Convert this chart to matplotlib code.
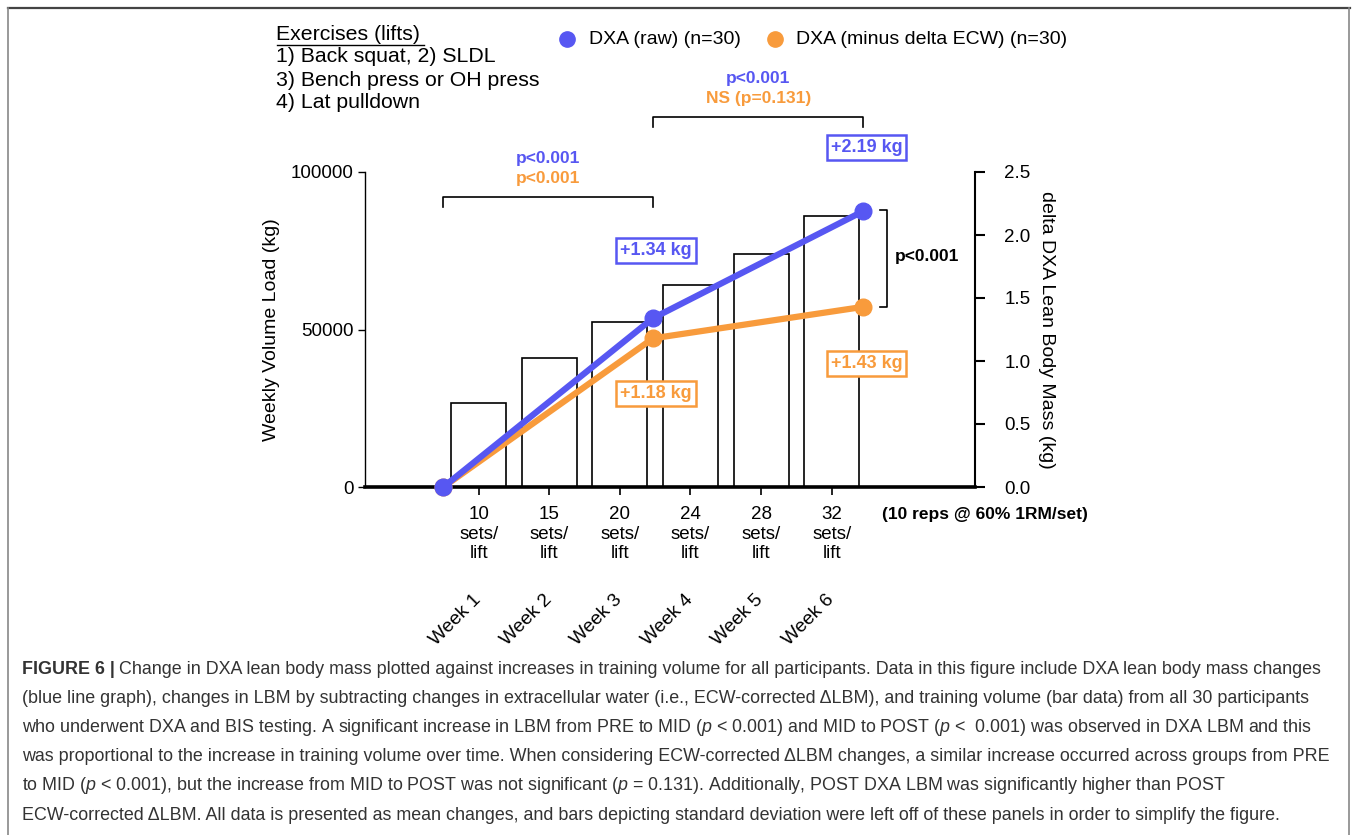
import matplotlib
matplotlib.use("Agg")
import matplotlib.pyplot as plt
from matplotlib.lines import Line2D
from matplotlib import transforms

# ---- data -------------------------------------------------------------
weeks = ["Week 1", "Week 2", "Week 3", "Week 4", "Week 5", "Week 6"]
sets_per_lift = [10, 15, 20, 24, 28, 32]
weekly_volume = [26700, 41000, 52400, 64100, 74000, 86000]  # kg

# time points (PRE, MID, POST) on the week scale
timepoint_x = [-0.5, 2.47, 5.45]
dxa_raw = [0.0, 1.34, 2.19]            # kg
dxa_minus_ecw = [0.0, 1.18, 1.43]      # kg

BLUE = "#5757F2"
ORANGE = "#F89B3C"
W, H = 1358, 835

plt.rcParams["font.family"] = ["Liberation Sans", "DejaVu Sans"]
plt.rcParams["mathtext.fontset"] = "custom"
plt.rcParams["mathtext.rm"] = "Liberation Sans"
plt.rcParams["mathtext.it"] = "Liberation Sans:italic"


def fx(px):
    return px / W


def fy(py):
    return 1 - py / H


fig = plt.figure(figsize=(W / 100, H / 100), dpi=100)
fig.patch.set_facecolor("white")

ax = fig.add_axes([fx(365), fy(487), (975 - 365) / W, (487 - 172) / H])
ax2 = ax.twinx()

x = list(range(len(weeks)))
ax.bar(x, weekly_volume, width=0.78, facecolor="white", edgecolor="black",
       linewidth=1.2, zorder=2)
ax.set_xlim(-1.61, 7.03)
ax.set_ylim(0, 100000)
ax.set_yticks([0, 50000, 100000])
ax.set_yticklabels(["0", "50000", "100000"])
ax.set_xticks(x)
ax.set_xticklabels([f"{s}\nsets/\nlift" for s in sets_per_lift],
                   linespacing=1.18)
ax.tick_params(axis="x", length=6, width=1.2, pad=8, labelsize=13.5,
               colors="black")
ax.tick_params(axis="y", length=5, width=1.0, pad=3, labelsize=13.5)

for side in ("top",):
    ax.spines[side].set_visible(False)
    ax2.spines[side].set_visible(False)
ax.spines["left"].set_linewidth(1.0)
ax.spines["bottom"].set_linewidth(2.6)
ax.spines["right"].set_visible(False)
ax2.spines["left"].set_visible(False)
ax2.spines["bottom"].set_visible(False)
ax2.spines["right"].set_linewidth(1.5)

ax.set_ylabel("Weekly Volume Load (kg)", fontsize=14, labelpad=8)

# delta lean body mass lines
ax2.set_ylim(0, 2.5)
ax2.set_yticks([0, 0.5, 1.0, 1.5, 2.0, 2.5])
ax2.set_yticklabels(["0.0", "0.5", "1.0", "1.5", "2.0", "2.5"])
ax2.tick_params(axis="y", length=7, width=1.5, pad=14, labelsize=13.5)
ax2.set_ylabel("delta DXA Lean Body Mass (kg)", fontsize=14, rotation=270,
               labelpad=18)
ax2.plot(timepoint_x, dxa_minus_ecw, color=ORANGE, lw=4.5, marker="o",
         ms=12, solid_capstyle="round", zorder=3, clip_on=False)
ax2.plot(timepoint_x, dxa_raw, color=BLUE, lw=4.5, marker="o",
         ms=12, solid_capstyle="round", zorder=4, clip_on=False)

# value boxes
def value_box(val, xpos, color, dy):
    ax2.annotate(f"+{val:.2f} kg", xy=(xpos, val), xytext=(3, dy),
                 textcoords="offset pixels", ha="center", va="center",
                 fontsize=13, fontweight="bold", color=color,
                 bbox=dict(boxstyle="square,pad=0.22", fc="white",
                           ec=color, lw=1.8), zorder=6,
                 annotation_clip=False)


value_box(dxa_raw[1], timepoint_x[1], BLUE, 68)
value_box(dxa_raw[2], timepoint_x[2], BLUE, 64)
value_box(dxa_minus_ecw[1], timepoint_x[1], ORANGE, -55)
value_box(dxa_minus_ecw[2], timepoint_x[2], ORANGE, -57)

# significance brackets
def top_bracket(x0, x1, y_px, drop_px, lines):
    trans = transforms.blended_transform_factory(ax.transData,
                                                 fig.transFigure)
    yb, yt = fy(y_px + drop_px), fy(y_px)
    ax.add_line(Line2D([x0, x0, x1, x1], [yb, yt, yt, yb], transform=trans,
                       color="black", lw=1.2, clip_on=False))
    for i, (txt, col) in enumerate(lines):
        ax.text((x0 + x1) / 2, fy(y_px - 39 + 21 * i), txt, transform=trans,
                ha="center", va="center", fontsize=12.5, fontweight="bold",
                color=col)


top_bracket(timepoint_x[0], timepoint_x[1], 197, 10,
            [("p<0.001", BLUE), ("p<0.001", ORANGE)])
top_bracket(timepoint_x[1], timepoint_x[2], 117, 10,
            [("p<0.001", BLUE), ("NS (p=0.131)", ORANGE)])

# bracket between final values
bx0, bx1 = 5.68, 5.79
ax2.plot([bx0, bx1, bx1, bx0], [dxa_raw[2] + 0.01, dxa_raw[2] + 0.01,
                               dxa_minus_ecw[2], dxa_minus_ecw[2]],
         color="black", lw=1.2, clip_on=False)
ax2.text(6.35, (dxa_raw[2] + dxa_minus_ecw[2]) / 2 + 0.02, "p<0.001",
         ha="center", va="center", fontsize=12.5, fontweight="bold")

# week labels and set note
wtrans = transforms.blended_transform_factory(ax.transData, fig.transFigure)
for i, wk in enumerate(weeks):
    ax.text(i - 0.09, fy(591), wk, transform=wtrans, rotation=45,
            rotation_mode="anchor", ha="right", va="top", fontsize=13.8)
fig.text(fx(882), fy(515), "(10 reps @ 60% 1RM/set)", ha="left",
         va="center", fontsize=12.5, fontweight="bold")

# header: exercises and legend
ex = fig.text(fx(276), fy(34), "Exercises (lifts)", ha="left", va="center",
              fontsize=15.3)
for i, t in enumerate(["1) Back squat, 2) SLDL", "3) Bench press or OH press",
                       "4) Lat pulldown"]):
    fig.text(fx(276), fy(57 + 23 * i), t, ha="left", va="center",
             fontsize=15.3)
fig.add_artist(Line2D([fx(277), fx(424)], [fy(44.5), fy(44.5)],
                      color="black", lw=1.0))

fig.add_artist(Line2D([fx(567)], [fy(39)], marker="o", ms=11, color=BLUE,
                      lw=0))
fig.text(fx(589), fy(39), "DXA (raw) (n=30)", ha="left", va="center",
         fontsize=14)
fig.add_artist(Line2D([fx(775)], [fy(39)], marker="o", ms=11, color=ORANGE,
                      lw=0))
fig.text(fx(796), fy(39), "DXA (minus delta ECW) (n=30)", ha="left",
         va="center", fontsize=14)

# caption
CAP = "#333333"
CAP_FS = 12.9
cap_lines = [
    None,
    "(blue line graph), changes in LBM by subtracting changes in extracellular "
    "water (i.e., ECW-corrected \u0394LBM), and training volume (bar data) from "
    "all 30 participants",
    "who underwent DXA and BIS testing. A significant increase in LBM from PRE "
    "to MID ($\\mathit{p}$ < 0.001) and MID to POST ($\\mathit{p}$ <  0.001) "
    "was observed in DXA LBM and this",
    "was proportional to the increase in training volume over time. When "
    "considering ECW-corrected \u0394LBM changes, a similar increase occurred "
    "across groups from PRE",
    "to MID ($\\mathit{p}$ < 0.001), but the increase from MID to POST was not "
    "significant ($\\mathit{p}$ = 0.131). Additionally, POST DXA LBM was "
    "significantly higher than POST",
    "ECW-corrected \u0394LBM. All data is presented as mean changes, and bars "
    "depicting standard deviation were left off of these panels in order to "
    "simplify the figure.",
]
cap_y0, cap_dy = 669, 29.2
t_fig = fig.text(fx(22), fy(cap_y0), "FIGURE 6 |", ha="left", va="center",
                 fontsize=CAP_FS, fontweight="bold", color=CAP)
fig.canvas.draw()
bb = t_fig.get_window_extent()
fig.text(bb.x1 / W + 4 / W, fy(cap_y0),
         "Change in DXA lean body mass plotted against increases in training "
         "volume for all participants. Data in this figure include DXA lean "
         "body mass changes", ha="left", va="center", fontsize=CAP_FS,
         color=CAP)
for i, line in enumerate(cap_lines):
    if line is None:
        continue
    fig.text(fx(22), fy(cap_y0 + cap_dy * i), line, ha="left", va="center",
             fontsize=CAP_FS, color=CAP)

# frame
fig.add_artist(Line2D([fx(8), fx(1350)], [fy(8), fy(8)], color="#444444",
                      lw=1.6))
fig.add_artist(Line2D([fx(8), fx(8)], [fy(8), 0], color="#888888", lw=1.2))
fig.add_artist(Line2D([fx(1349), fx(1349)], [fy(8), 0], color="#888888",
                      lw=1.2))

fig.savefig("out.png", dpi=100, facecolor="white")
